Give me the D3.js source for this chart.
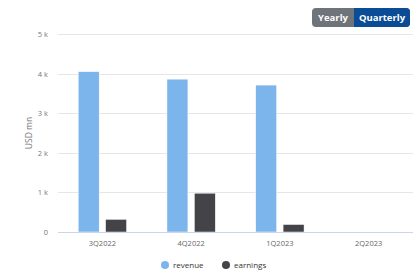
<!DOCTYPE html>
<html><head><meta charset="utf-8">
<script src="https://cdn.jsdelivr.net/npm/d3@7/dist/d3.min.js"></script>
<style>
html,body{margin:0;padding:0;background:#fff;}
svg{display:block;font-family:"Open Sans","DejaVu Sans",sans-serif;}
</style></head>
<body>
<svg id="chart" width="414" height="276"></svg>
<script>
const categories = ["3Q2022", "4Q2022", "1Q2023", "2Q2023"];
const revenue = [4050, 3860, 3710, null];
const earnings = [320, 980, 190, null];
const seriesNames = ["revenue", "earnings"];
const seriesColors = ["#7cb5ec", "#434348"];
const yTicks = [0, 1000, 2000, 3000, 4000, 5000];
const yTickLabels = ["0", "1 k", "2 k", "3 k", "4 k", "5 k"];
const yTitle = "USD mn";
const buttons = ["Yearly", "Quarterly"];

(function () {
const svg = d3.select("#chart");
const pLeft = 58, pRight = 413, pTop = 34, pBottom = 232;

const x = d3.scaleBand().domain(categories).range([pLeft, pRight]).paddingInner(0).paddingOuter(0);
const xs = d3.scaleBand().domain(seriesNames).range([0, x.bandwidth()]).paddingOuter(0.737).paddingInner(0.234);
const y = d3.scaleLinear().domain([0, 5000]).range([pBottom, pTop]);

// grid
svg.append("g").selectAll("line").data(yTicks.slice(1)).join("line")
  .attr("x1", pLeft).attr("x2", pRight)
  .attr("y1", d => Math.round(y(d)) + 0.5).attr("y2", d => Math.round(y(d)) + 0.5)
  .attr("stroke", "#e6e6e6").attr("stroke-width", 1);

// y labels
svg.append("g").selectAll("text").data(yTicks).join("text")
  .attr("x", 48).attr("y", d => y(d) + 3)
  .attr("text-anchor", "end").attr("font-size", 7.5).attr("fill", "#777")
  .text((d, i) => yTickLabels[i]);

svg.append("text")
  .attr("transform", `translate(32,${(pTop + pBottom) / 2}) rotate(-90)`)
  .attr("text-anchor", "middle").attr("font-size", 8.5).attr("fill", "#777")
  .text(yTitle);

// bars
const data = [revenue, earnings];
seriesNames.forEach((s, si) => {
  svg.append("g").selectAll("rect")
    .data(categories.map((c, i) => ({c, v: data[si][i]})).filter(d => d.v != null))
    .join("rect")
    .attr("x", d => x(d.c) + xs(s))
    .attr("width", xs.bandwidth())
    .attr("y", d => y(d.v))
    .attr("height", d => y(0) - y(d.v))
    .attr("fill", seriesColors[si])
    .attr("stroke", "#fff").attr("stroke-width", 0.5);
});

// x axis line
svg.append("line").attr("x1", pLeft).attr("x2", pRight)
  .attr("y1", pBottom + 0.5).attr("y2", pBottom + 0.5)
  .attr("stroke", "#ccd6eb").attr("stroke-width", 1);

svg.append("g").selectAll("text").data(categories).join("text")
  .attr("x", d => x(d) + x.bandwidth() / 2).attr("y", 246)
  .attr("text-anchor", "middle").attr("font-size", 7.5).attr("fill", "#666")
  .text(d => d);

// legend
const legendX = [165, 226];
const lg = svg.append("g").selectAll("g").data(seriesNames).join("g")
  .attr("transform", (d, i) => `translate(${legendX[i]},265)`);
lg.append("circle").attr("r", 4).attr("fill", (d, i) => seriesColors[i]);
lg.append("text").attr("x", 8).attr("y", 3).attr("font-size", 8).attr("fill", "#333").text(d => d);

// buttons
const bx = 312, bw1 = 42, bw2 = 56, by = 8, bh = 19;
const bg = svg.append("g");
bg.append("rect").attr("x", bx).attr("y", by).attr("width", bw1 + bw2).attr("height", bh).attr("rx", 4).attr("fill", "#6e7479");
bg.append("rect").attr("x", bx + bw1).attr("y", by).attr("width", bw2).attr("height", bh).attr("rx", 4).attr("fill", "#0b4c96");
bg.append("rect").attr("x", bx + bw1).attr("y", by).attr("width", 6).attr("height", bh).attr("fill", "#0b4c96");
bg.append("text").attr("x", bx + bw1 / 2).attr("y", by + bh / 2 + 3.5).attr("text-anchor", "middle")
  .attr("font-size", 9.5).attr("font-weight", "bold").attr("fill", "#fff").text(buttons[0]);
bg.append("text").attr("x", bx + bw1 + bw2 / 2).attr("y", by + bh / 2 + 3.5).attr("text-anchor", "middle")
  .attr("font-size", 9.5).attr("font-weight", "bold").attr("fill", "#fff").text(buttons[1]);
})();
</script>
</body></html>
